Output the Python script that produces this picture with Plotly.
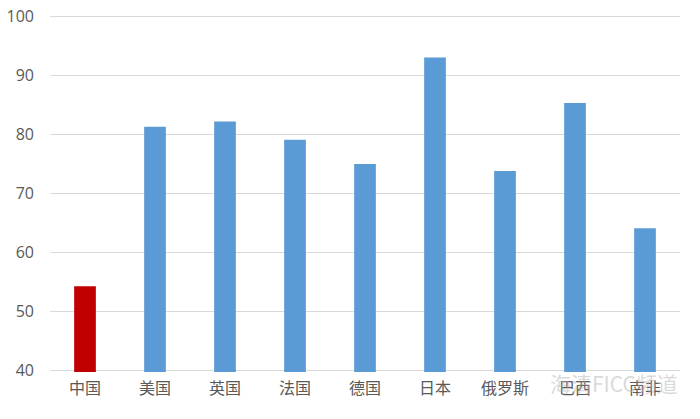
import plotly.graph_objects as go

# Countries and values
countries = ["中国", "美国", "英国", "法国", "德国", "日本", "俄罗斯", "巴西", "南非"]
values = [54.3, 81.3, 82.2, 79.1, 75.0, 93.0, 73.8, 85.3, 64.1]
bar_colors = ["#c00000"] + ["#5b9bd5"] * 8
y_ticks = [40, 50, 60, 70, 80, 90, 100]

fig = go.Figure(go.Bar(
    x=countries, y=values,
    marker=dict(color=bar_colors, line=dict(width=0)),
))

fig.update_layout(
    width=700, height=419,
    margin=dict(l=50, r=20, t=15, b=47, autoexpand=False),
    plot_bgcolor="white", paper_bgcolor="white",
    bargap=0.69,
    showlegend=False,
    font=dict(family="Noto Sans CJK SC", size=16, color="#595959"),
)
fig.update_xaxes(showgrid=False, showline=False, ticks="", automargin=False,
                 tickfont=dict(size=16), ticklabelstandoff=5)
fig.update_yaxes(range=[39.8, 100.2], tickvals=y_ticks, showgrid=True, gridcolor="#d9d9d9",
                 gridwidth=1, zeroline=False, showline=False, ticks="", automargin=False,
                 tickfont=dict(family="Open Sans", size=16), ticklabelstandoff=15)

# faint watermark
fig.add_annotation(x=1.0, y=-0.03, xref="paper", yref="paper", xanchor="right", yanchor="middle",
                   text="海清FICC频道", showarrow=False,
                   font=dict(family="Noto Sans CJK SC", size=21, color="rgba(180,180,180,0.5)"))

# drop the default body margin so the figure fills the window
fig.write_html("out.html", config={"displayModeBar": False},
               post_script="document.body.style.margin='0';")
